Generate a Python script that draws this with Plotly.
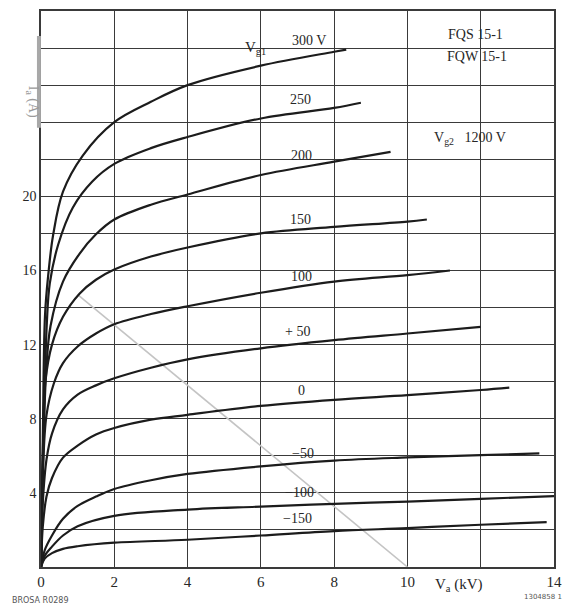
import plotly.graph_objects as go

# Anode voltage Va (kV) and anode current Ia (A) for each control-grid voltage Vg1
va_300 = [0, 0.05, 0.11, 0.2, 0.33, 0.6, 1.14, 2, 3, 4, 6, 8, 8.33]
ia_300 = [0, 7.0, 13.6, 15.8, 17.9, 20.25, 22.2, 24.0, 25.1, 26.0, 27.05, 27.8, 27.92]

va_250 = [0, 0.06, 0.16, 0.24, 0.47, 0.87, 1.4, 2, 3, 4, 6, 8, 8.73]
ia_250 = [0, 6.5, 13.2, 15.3, 17.4, 19.4, 20.8, 21.75, 22.6, 23.2, 24.2, 24.77, 25.05]

va_200 = [0, 0.06, 0.14, 0.26, 0.6, 1.05, 1.5, 2, 3, 4, 6, 8, 9.54]
ia_200 = [0, 6.0, 10.5, 13.0, 15.4, 16.9, 17.95, 18.75, 19.55, 20.1, 21.15, 21.87, 22.4]

va_150 = [0, 0.05, 0.12, 0.3, 0.6, 1.05, 1.5, 2, 3, 4, 6, 8, 10, 10.53]
ia_150 = [0, 6.0, 10.0, 12.0, 13.5, 14.75, 15.5, 16.05, 16.75, 17.24, 18.0, 18.35, 18.64, 18.75]

va_100 = [0, 0.05, 0.15, 0.35, 0.6, 1.0, 1.5, 2, 3, 4, 6, 8, 10, 11.16]
ia_100 = [0, 5.0, 8.2, 9.9, 11.0, 11.9, 12.6, 13.1, 13.65, 14.07, 14.8, 15.4, 15.75, 16.0]

va_p50 = [0, 0.05, 0.15, 0.3, 0.6, 1.0, 1.5, 2, 3, 4, 6, 8, 10, 12]
ia_p50 = [0, 3.5, 5.8, 7.2, 8.5, 9.3, 9.8, 10.18, 10.75, 11.2, 11.8, 12.24, 12.6, 12.96]

va_0 = [0, 0.05, 0.15, 0.3, 0.6, 1.0, 1.5, 2, 3, 4, 6, 8, 10, 12, 12.78]
ia_0 = [0, 2.2, 3.8, 4.8, 5.9, 6.55, 7.15, 7.5, 7.95, 8.21, 8.69, 9.02, 9.27, 9.55, 9.68]

va_m50 = [0, 0.1, 0.3, 0.6, 1.0, 1.5, 2, 3, 4, 6, 8, 10, 12, 13.6]
ia_m50 = [0, 0.9, 1.7, 2.6, 3.3, 3.8, 4.21, 4.68, 5.02, 5.43, 5.74, 5.91, 6.04, 6.13]

va_m100 = [0, 0.1, 0.3, 0.6, 1.0, 2, 4, 6, 8, 10, 12, 14]
ia_m100 = [0, 0.6, 1.1, 1.7, 2.2, 2.76, 3.1, 3.26, 3.41, 3.53, 3.68, 3.82]

va_m150 = [0, 0.1, 0.3, 0.6, 1.0, 2, 4, 6, 8, 10, 12, 13.8]
ia_m150 = [0, 0.45, 0.75, 0.98, 1.12, 1.31, 1.47, 1.7, 1.94, 2.1, 2.28, 2.42]

# grey limit line
va_limit = [1.0, 10.0]
ia_limit = [14.7, 0.0]

curves = [
    (va_300, ia_300), (va_250, ia_250), (va_200, ia_200), (va_150, ia_150),
    (va_100, ia_100), (va_p50, ia_p50), (va_0, ia_0), (va_m50, ia_m50),
    (va_m100, ia_m100), (va_m150, ia_m150),
]

# curve labels: (text, x, y)
curve_labels = [
    ("300 V", 7.31, 28.4), ("250", 7.07, 25.25), ("200", 7.12, 22.2),
    ("150", 7.07, 18.76), ("100", 7.12, 15.7), ("+ 50", 6.99, 12.7),
    ("0", 7.12, 9.5), ("−50", 7.15, 6.1), ("−100", 7.05, 4.0),
    ("−150", 7.0, 2.6),
]

x_ticks = [0, 2, 4, 6, 8, 10, 12, 14]
x_ticktext = ["0", "2", "4", "6", "8", "10", "", "14"]
y_ticks = list(range(0, 31, 2))
y_ticktext = [str(v) if v in (4, 8, 12, 16, 20) else "" for v in y_ticks]

SERIF = "Liberation Serif"
INK = "#262626"

fig = go.Figure()

fig.add_trace(go.Scatter(x=va_limit, y=ia_limit, mode="lines",
                         line=dict(color="#c4c4c4", width=1.6),
                         hoverinfo="skip", showlegend=False))

for va, ia in curves:
    fig.add_trace(go.Scatter(x=va, y=ia, mode="lines",
                             line=dict(color="#1c1c1c", width=2.2,
                                       shape="spline", smoothing=1.0),
                             showlegend=False))

annotations = []
for text, x, y in curve_labels:
    annotations.append(dict(x=x, y=y, text=text, showarrow=False,
                            font=dict(family=SERIF, size=14, color=INK),
                            xanchor="center", yanchor="middle"))

annotations += [
    dict(x=5.85, y=28.0, text="V<sub>g1</sub>", showarrow=False,
         font=dict(family=SERIF, size=15, color=INK), xanchor="center"),
    dict(x=11.85, y=28.75, text="FQS 15-1", showarrow=False,
         font=dict(family=SERIF, size=14, color=INK), xanchor="center"),
    dict(x=11.9, y=27.55, text="FQW 15-1", showarrow=False,
         font=dict(family=SERIF, size=14, color=INK), xanchor="center"),
    dict(x=11.7, y=23.1, text="V<sub>g2</sub>   1200 V", showarrow=False,
         font=dict(family=SERIF, size=14, color=INK), xanchor="center"),
    dict(x=11.4, y=0, yref="y", text="V<sub>a</sub> (kV)", showarrow=False,
         yshift=-18, font=dict(family=SERIF, size=15, color=INK),
         xanchor="center", yanchor="middle"),
    dict(xref="paper", yref="paper", x=-0.037, y=0.87, text="I<sub>a</sub> (A)",
         textangle=90, showarrow=False,
         font=dict(family=SERIF, size=14, color="#9a9a9a")),
    dict(xref="paper", yref="paper", x=-0.06, y=-0.072, text="BROSA R0289",
         showarrow=False, xanchor="left",
         font=dict(family="DejaVu Sans", size=8, color="#555")),
    dict(xref="paper", yref="paper", x=1.02, y=-0.065, text="1304858 1",
         showarrow=False, xanchor="right",
         font=dict(family="DejaVu Sans", size=7, color="#555")),
]

fig.update_layout(
    width=571, height=608,
    margin=dict(l=41, r=11, t=9, b=41),
    paper_bgcolor="white", plot_bgcolor="white",
    annotations=annotations,
    shapes=[dict(type="line", xref="paper", yref="paper", x0=-0.004, x1=-0.004,
                 y0=0.79, y1=0.955, line=dict(color="#a8a8a8", width=4))],
    xaxis=dict(range=[0, 14], tickvals=x_ticks, ticktext=x_ticktext,
               showgrid=True, gridcolor="#3a3a3a", gridwidth=1.4,
               zeroline=False, showline=True, linecolor="#3a3a3a", linewidth=1.6,
               mirror=True, ticks="", tickfont=dict(family=SERIF, size=15, color=INK),
               fixedrange=True),
    yaxis=dict(range=[0, 30], tickvals=y_ticks, ticktext=y_ticktext,
               showgrid=True, gridcolor="#3a3a3a", gridwidth=1.4,
               zeroline=False, showline=True, linecolor="#3a3a3a", linewidth=1.6,
               mirror=True, ticks="", tickfont=dict(family=SERIF, size=14, color=INK),
               fixedrange=True),
)

fig.write_html("out.html")
